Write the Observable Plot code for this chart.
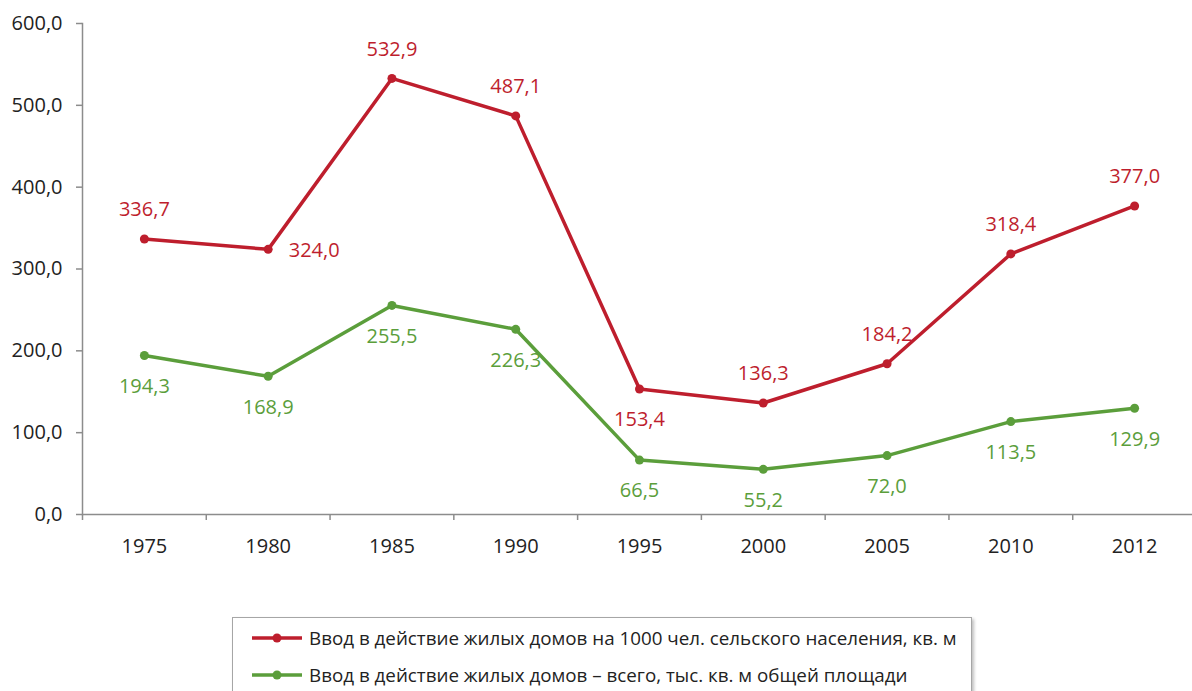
<!DOCTYPE html>
<html><head><meta charset="utf-8">
<script src="https://cdn.jsdelivr.net/npm/d3@7"></script>
<script src="https://cdn.jsdelivr.net/npm/@observablehq/plot@0.6"></script>
<style>
html,body{margin:0;padding:0;background:#fff;}
body{font-family:"Open Sans",sans-serif;overflow:hidden;width:1192px;height:691px;position:relative;}
#chart{position:absolute;left:0;top:0;}
#legend{position:absolute;left:232px;top:617px;width:738px;height:90px;border:1px solid #a6a6a6;box-shadow:2px 2px 3px rgba(0,0,0,0.25);background:#fff;}
.row{position:absolute;left:18px;height:26px;display:flex;align-items:center;font-size:18.8px;color:#222;white-space:nowrap;}
.row svg{margin-right:6px;}
</style></head><body>
<div id="chart"></div>
<div id="legend"></div>
<script>
const years = ["1975","1980","1985","1990","1995","2000","2005","2010","2012"];
const perThousand = [336.7, 324.0, 532.9, 487.1, 153.4, 136.3, 184.2, 318.4, 377.0];
const total = [194.3, 168.9, 255.5, 226.3, 66.5, 55.2, 72.0, 113.5, 129.9];
const seriesNames = [
  "Ввод в действие жилых домов на 1000 чел. сельского населения, кв. м",
  "Ввод в действие жилых домов – всего, тыс. кв. м общей площади"
];
const yTicks = [0, 100, 200, 300, 400, 500, 600];

const colors = ["#BE1E2D", "#5B9E3B"];
const fmt = d => d.toFixed(1).replace(".", ",");
// label placement for the red series (style)
const redPlace = ["above","right","above","above","below","above","above","above","above"];

const red = years.map((y, i) => ({year: y, value: perThousand[i], place: redPlace[i]}));
const green = years.map((y, i) => ({year: y, value: total[i]}));

const left = 82, right = 1196;
const bw = (right - left) / years.length;
const axisColor = "#8c8c8c";
const fs = 20;

const chart = Plot.plot({
  width: 1192,
  height: 570,
  marginTop: 23,
  marginBottom: 56,
  marginLeft: 82,
  marginRight: 0,
  style: {fontFamily: "'Open Sans', sans-serif", fontSize: fs + "px", color: "#222", background: "#fff"},
  x: {type: "point", domain: years, range: [left, right], padding: 0.5, round: false},
  y: {domain: [0, 600], range: [514, 23]},
  marks: [
    Plot.frame({anchor: "left", stroke: axisColor, strokeWidth: 1.5}),
    Plot.ruleY([0], {stroke: axisColor, strokeWidth: 1.5}),
    Plot.axisY({ticks: yTicks, tickFormat: fmt, tickSize: 6, tickPadding: 14, stroke: axisColor, strokeWidth: 1.5, fill: "#222", fontSize: fs, label: null}),
    Plot.axisX({tickSize: 6, tickFormat: () => "", dx: -bw / 2, stroke: axisColor, strokeWidth: 1.5, label: null}),
    Plot.axisX({tickSize: 0, tickPadding: 24, fill: "#222", fontSize: fs, label: null}),
    Plot.line(green, {x: "year", y: "value", stroke: colors[1], strokeWidth: 3.5}),
    Plot.dot(green, {x: "year", y: "value", fill: colors[1], r: 4.5}),
    Plot.line(red, {x: "year", y: "value", stroke: colors[0], strokeWidth: 3.5}),
    Plot.dot(red, {x: "year", y: "value", fill: colors[0], r: 4.5}),
    Plot.text(green, {x: "year", y: "value", text: d => fmt(d.value), dy: 31, fill: colors[1], fontSize: fs}),
    Plot.text(red.filter(d => d.place === "above"), {x: "year", y: "value", text: d => fmt(d.value), dy: -29, fill: colors[0], fontSize: fs}),
    Plot.text(red.filter(d => d.place === "below"), {x: "year", y: "value", text: d => fmt(d.value), dy: 31, fill: colors[0], fontSize: fs}),
    Plot.text(red.filter(d => d.place === "right"), {x: "year", y: "value", text: d => fmt(d.value), dx: 46, dy: 1, fill: colors[0], fontSize: fs})
  ]
});
document.getElementById("chart").appendChild(chart);

const legend = document.getElementById("legend");
seriesNames.forEach((name, i) => {
  const row = document.createElement("div");
  row.className = "row";
  row.style.top = (i === 0 ? 7 : 44) + "px";
  row.innerHTML = `<svg width="52" height="12"><line x1="1" y1="6" x2="51" y2="6" stroke="${colors[i]}" stroke-width="3.5"/><circle cx="26" cy="6" r="4.5" fill="${colors[i]}"/></svg><span>${name}</span>`;
  legend.appendChild(row);
});
</script>
</body></html>
